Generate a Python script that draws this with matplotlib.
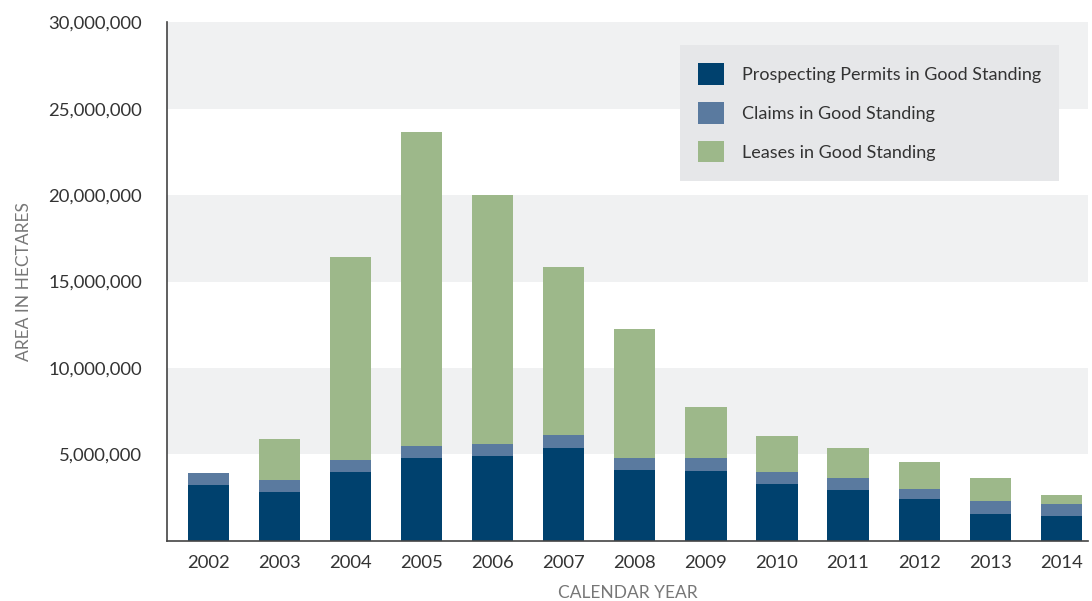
import numpy as np
import matplotlib
matplotlib.use('Agg')
import matplotlib.pyplot as plt
from matplotlib.ticker import FuncFormatter

plt.rcParams['font.family'] = ['Lato', 'DejaVu Sans']

# 数据 (公顷)
years = ['2002', '2003', '2004', '2005', '2006', '2007', '2008',
         '2009', '2010', '2011', '2012', '2013', '2014']
permits = [3250000, 2850000, 4000000, 4800000, 4900000, 5400000, 4100000,
           4070000, 3300000, 2950000, 2400000, 1580000, 1420000]
claims = [700000, 700000, 700000, 700000, 700000, 720000, 720000,
          720000, 700000, 700000, 600000, 700000, 700000]
leases = [0, 2350000, 11700000, 18150000, 14400000, 9730000, 7430000,
          2960000, 2050000, 1700000, 1550000, 1370000, 530000]
labels = ['Prospecting Permits in Good Standing', 'Claims in Good Standing',
          'Leases in Good Standing']
colors = ['#00416e', '#5a7a9f', '#9db88a']

fig = plt.figure(figsize=(10.92, 6.01), dpi=100)
ax = fig.add_axes([0.153, 0.1, 0.843, 0.863])

# 交替灰色背景条
for lo in range(0, 30000000, 10000000):
    ax.axhspan(lo + 5000000, lo + 10000000, color='#f0f1f2', zorder=0, lw=0)

x = np.arange(len(years))
w = 0.58
p = np.array(permits)
c = np.array(claims)
l = np.array(leases)
ax.bar(x, p, w, color=colors[0], label=labels[0], zorder=2)
ax.bar(x, c, w, bottom=p, color=colors[1], label=labels[1], zorder=2)
ax.bar(x, l, w, bottom=p + c, color=colors[2], label=labels[2], zorder=2)

ax.set_xlim(-0.58, 12.37)
ax.set_ylim(0, 30000000)
ax.set_xticks(x)
ax.set_xticklabels(years)
ax.set_yticks(range(5000000, 30000001, 5000000))
ax.yaxis.set_major_formatter(FuncFormatter(lambda v, pos: '{:,.0f}'.format(v)))
ax.tick_params(length=0, labelsize=13.3, colors='#333333', pad=10)
ax.tick_params(axis='y', pad=18)

for s in ['top', 'right']:
    ax.spines[s].set_visible(False)
for s in ['left', 'bottom']:
    ax.spines[s].set_color('#444444')
    ax.spines[s].set_linewidth(1.2)
    ax.spines[s].set_zorder(3)

ax.set_xlabel('CALENDAR YEAR', fontsize=12.5, color='#777777', labelpad=10)
ax.set_ylabel('AREA IN HECTARES', fontsize=12.5, color='#777777', labelpad=12)

leg = ax.legend(loc='upper left', bbox_to_anchor=(0.557, 0.956), fontsize=13.0,
                frameon=True, fancybox=False, facecolor='#e6e7e9', edgecolor='none',
                framealpha=1, handlelength=1.45, handleheight=1.45, labelspacing=0.97,
                handletextpad=1.0, borderpad=1.0, borderaxespad=0)
for t in leg.get_texts():
    t.set_color('#333333')
leg.set_zorder(4)

plt.savefig('out.png', dpi=100)
